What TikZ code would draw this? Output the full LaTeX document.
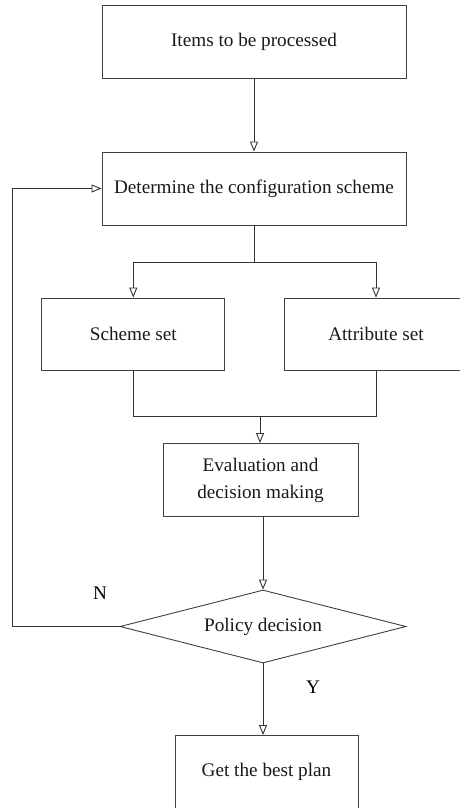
\documentclass[tikz,border=0pt]{standalone}
\usepackage{fontspec}
\setmainfont{Liberation Serif}
\usetikzlibrary{shapes.geometric, arrows.meta, positioning}

\tikzset{
  flowbox/.style={draw=black!75, line width=0.9pt, rectangle, minimum height=73pt, align=center, inner sep=2pt, text=black!90},
  decision/.style={draw=black!75, line width=0.9pt, diamond, aspect=3.9, minimum width=286pt, minimum height=73pt, inner sep=0pt, text=black!90},
  arr/.style={draw=black!80, line width=0.9pt, -{Triangle[open, length=10pt, width=8pt]}},
  plain/.style={draw=black!80, line width=0.9pt}
}

\begin{document}
\begin{tikzpicture}[x=1pt, y=-1pt, font=\fontsize{19.2}{27}\selectfont]
  \useasboundingbox (0,0) rectangle (460,808);

  % Main column
  \node[flowbox, minimum width=304pt] (items) at (254, 41.5) {Items to be processed};
  \node[flowbox, minimum width=304pt] (config) at (254, 188.5) {Determine the configuration scheme};
  \node[flowbox, minimum width=183pt, minimum height=72pt] (scheme) at (133.3, 334) {Scheme set};
  \node[flowbox, minimum width=183pt, minimum height=72pt] (attr) at (376, 334) {Attribute set};
  \node[flowbox, minimum width=195pt] (eval) at (260.5, 480) {Evaluation and\\decision making};
  \node[decision] (policy) at (263, 626.5) {Policy decision};
  \node[flowbox, minimum width=183pt] (best) at (266.5, 772) {Get the best plan};

  % Branch labels
  \node (nlabel) at (100, 593) {N};
  \node (ylabel) at (313, 687) {Y};

  % Junction points
  \coordinate (split) at (254, 262);
  \coordinate (merge) at (260, 416);
  \coordinate (back) at (12, 626.5);

  % Connectors
  \draw[arr] (items) -- (config);
  \draw[plain] (config.south) -- (split);
  \draw[arr] (split) -| (scheme.north);
  \draw[arr] (split) -| (attr.north);
  \draw[plain] (scheme.south) |- (merge);
  \draw[plain] (attr.south) |- (merge);
  \draw[arr] (merge) -- (merge |- eval.north);
  \draw[arr] (policy.north |- eval.south) -- (policy.north);
  \draw[arr] (policy.south) -- (policy.south |- best.north);
  \draw[arr] (policy.west) -- (back) |- (config.west);
\end{tikzpicture}
\end{document}
